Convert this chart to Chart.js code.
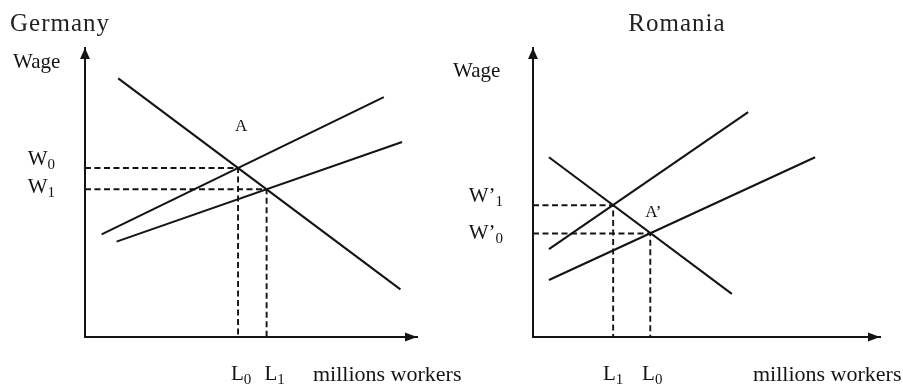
<!DOCTYPE html>
<html><head><meta charset="utf-8">
<script src="https://cdn.jsdelivr.net/npm/chart.js@4.4.1/dist/chart.umd.min.js"></script>
<style>
html,body{margin:0;padding:0;background:#fff;overflow:hidden}
#wrap{position:relative;width:903px;height:384px;background:#fff}
#wrap canvas{position:absolute;left:0;top:0}
</style></head><body>
<div id="wrap"><canvas id="cDE" width="903" height="384"></canvas><canvas id="cRO" width="903" height="384"></canvas></div>
<script>
// ---- Germany (x: employment, y: wage; arbitrary units 0-100) ----
const deDemandX = [10, 95];
const deDemandY = [89.5, 16.5];
const deSupply0X = [5, 90];        // initial labour supply
const deSupply0Y = [35.5, 83];
const deSupply1X = [9.5, 95.5];    // supply after immigration
const deSupply1Y = [33, 67.5];
const deEquilL = [46.1, 54.7];     // L0, L1
const deEquilW = [58.5, 51.1];     // W0, W1
const deLTicks = ['L0', 'L1'];
const deWTicks = ['W0', 'W1'];

// ---- Romania ----
const roDemandX = [4.6, 57.3];
const roDemandY = [62.2, 14.9];
const roSupply0X = [4.6, 81.3];    // initial labour supply
const roSupply0Y = [19.7, 62.2];
const roSupply1X = [4.6, 62];      // supply after emigration
const roSupply1Y = [30.4, 77.8];
const roEquilL = [33.8, 23.1];     // L0, L1
const roEquilW = [35.8, 45.6];     // W'0, W'1
const roLTicks = ['L0', 'L1'];
const roWTicks = ['W\u20190', 'W\u20191'];

const INK = '#141414';
const SERIF = "'Liberation Serif','Times New Roman',serif";

function pts(xs, ys) { return xs.map((v, i) => ({x: v, y: ys[i]})); }
function solid(xs, ys) {
  return {data: pts(xs, ys), showLine: true, borderColor: INK, borderWidth: 2.1, pointRadius: 0};
}
function dashed(L, W) {
  return {data: [{x: 0, y: W}, {x: L, y: W}, {x: L, y: 0}], showLine: true, borderColor: INK,
          borderWidth: 1.9, borderDash: [6, 3.5], pointRadius: 0};
}

function drawSub(ctx, label, x, y, align, size) {
  const base = label.slice(0, -1), sub = label.slice(-1);
  const subSize = Math.round(size * 0.7);
  ctx.font = size + 'px ' + SERIF; const wb = ctx.measureText(base).width;
  ctx.font = subSize + 'px ' + SERIF; const ws = ctx.measureText(sub).width;
  const total = wb + ws;
  const x0 = align === 'right' ? x - total : align === 'center' ? x - total / 2 : x;
  ctx.textAlign = 'left'; ctx.textBaseline = 'alphabetic';
  ctx.font = size + 'px ' + SERIF; ctx.fillText(base, x0, y);
  ctx.font = subSize + 'px ' + SERIF; ctx.fillText(sub, x0 + wb, y + 4);
}

const decor = {
  id: 'decor',
  afterDraw(chart, args, o) {
    const {ctx, chartArea: a, scales: {x, y}} = chart;
    ctx.save();
    ctx.fillStyle = INK;
    // axis arrow heads
    ctx.beginPath(); ctx.moveTo(a.left, a.top); ctx.lineTo(a.left - 5, a.top + 11); ctx.lineTo(a.left + 5, a.top + 11); ctx.closePath(); ctx.fill();
    ctx.beginPath(); ctx.moveTo(a.right, a.bottom); ctx.lineTo(a.right - 12, a.bottom - 4.5); ctx.lineTo(a.right - 12, a.bottom + 4.5); ctx.closePath(); ctx.fill();
    ctx.textBaseline = 'alphabetic';
    // panel title
    ctx.fillStyle = '#222';
    ctx.font = '25px ' + SERIF; ctx.letterSpacing = '1px';
    ctx.textAlign = o.titleAlign; ctx.fillText(o.title, o.titleX, 31);
    ctx.letterSpacing = '0px';
    ctx.fillStyle = INK;
    // axis titles
    ctx.font = '21px ' + SERIF; ctx.textAlign = 'left';
    ctx.fillText('Wage', o.wageX, o.wageY);
    ctx.font = '22px ' + SERIF;
    ctx.fillText('millions workers', o.xTitleX, 381);
    // value labels on the axes
    o.wTicks.forEach((t, i) => drawSub(ctx, t, a.left - 30, y.getPixelForValue(o.wVals[i]) + o.wDy[i], 'right', 21));
    o.lTicks.forEach((t, i) => drawSub(ctx, t, x.getPixelForValue(o.lVals[i]) + o.lDx[i], 380, 'center', 21));
    // equilibrium label
    ctx.font = '17px ' + SERIF; ctx.textAlign = 'center';
    ctx.fillText(o.eqLabel, x.getPixelForValue(o.lVals[0]) + o.eqDx, y.getPixelForValue(o.wVals[0]) + o.eqDy);
    ctx.restore();
  }
};

function axis() {
  return {type: 'linear', min: 0, max: 100,
          grid: {display: false, drawTicks: false},
          ticks: {display: false},
          border: {display: true, color: INK, width: 2}};
}

function makeChart(id, datasets, padding, deco) {
  return new Chart(document.getElementById(id), {
    type: 'scatter',
    data: {datasets},
    options: {
      responsive: false, animation: false, devicePixelRatio: 1,
      layout: {padding},
      elements: {line: {tension: 0}},
      plugins: {legend: {display: false}, tooltip: {enabled: false}, decor: deco},
      scales: {x: axis(), y: axis()}
    },
    plugins: [decor]
  });
}

makeChart('cDE', [
  solid(deDemandX, deDemandY), solid(deSupply0X, deSupply0Y), solid(deSupply1X, deSupply1Y),
  dashed(deEquilL[0], deEquilW[0]), dashed(deEquilL[1], deEquilW[1])
], {left: 85, right: 486, top: 48, bottom: 47}, {
  title: 'Germany', titleAlign: 'left', titleX: 10,
  wageX: 13, wageY: 68, xTitleX: 313,
  wTicks: deWTicks, wVals: deEquilW, wDy: [-3, 4],
  lTicks: deLTicks, lVals: deEquilL, lDx: [3, 8],
  eqLabel: 'A', eqDx: 3, eqDy: -37
});

makeChart('cRO', [
  solid(roDemandX, roDemandY), solid(roSupply0X, roSupply0Y), solid(roSupply1X, roSupply1Y),
  dashed(roEquilL[0], roEquilW[0]), dashed(roEquilL[1], roEquilW[1])
], {left: 533, right: 23, top: 48, bottom: 47}, {
  title: 'Romania', titleAlign: 'center', titleX: 677,
  wageX: 453, wageY: 77, xTitleX: 753,
  wTicks: roWTicks, wVals: roEquilW, wDy: [5.5, -3],
  lTicks: roLTicks, lVals: roEquilL, lDx: [2, 0],
  eqLabel: 'A\u2019', eqDx: 3, eqDy: -17
});
</script>
</body></html>
